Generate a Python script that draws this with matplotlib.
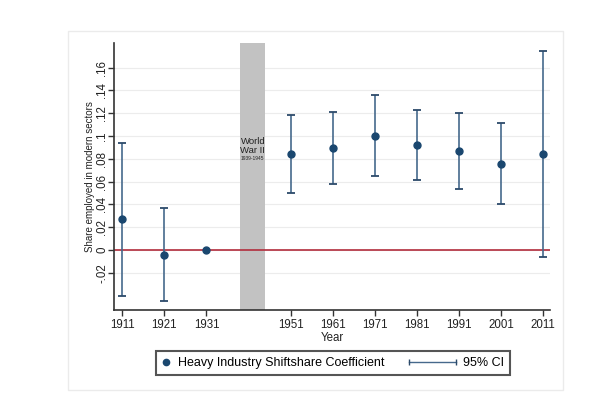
import matplotlib
matplotlib.use("Agg")
import matplotlib.pyplot as plt
from matplotlib.lines import Line2D
from matplotlib.legend_handler import HandlerBase
from matplotlib.patches import Rectangle
from matplotlib.ticker import FuncFormatter

plt.rcParams['font.family'] = ['Liberation Sans', 'DejaVu Sans']

years = [1911, 1921, 1931, 1951, 1961, 1971, 1981, 1991, 2001, 2011]
coef = [0.0269, -0.0047, 0.0, 0.0842, 0.0892, 0.1000, 0.0921, 0.0868, 0.0757, 0.0842]
ci_low = [-0.0404, -0.0450, 0.0, 0.0503, 0.0579, 0.0649, 0.0614, 0.0532, 0.0406, -0.0064]
ci_high = [0.0941, 0.0368, 0.0, 0.1184, 0.1208, 0.1360, 0.1228, 0.1199, 0.1111, 0.1746]
war_start, war_end = 1939, 1945
yticks = [-0.02, 0, 0.02, 0.04, 0.06, 0.08, 0.10, 0.12, 0.14, 0.16]

navy = '#1a476f'
ci_col = '#46698c'
red = '#b22d3c'

fig = plt.figure(figsize=(6.05, 3.99), dpi=100)
fig.patch.set_facecolor('white')
fig.patches.append(Rectangle((68/605, 1-390/399), (563-68)/605, (390-31)/399,
                             transform=fig.transFigure, fill=False,
                             edgecolor='#ebebeb', lw=1.0))

ax = fig.add_axes([114.3/605, 1-310/399, (550-114.3)/605, (310-43.3)/399])
ax.set_xlim(1909.1, 2012.6)
ax.set_ylim(-0.0526, 0.1813)

for t in yticks:
    ax.axhline(t, color='#ececec', lw=0.8, zorder=0)
ax.axvspan(war_start, war_end, color='#c2c2c2', zorder=1, lw=0)
ax.axhline(0, color=red, lw=1.2, zorder=2)

ax.text((war_start+war_end)/2, 0.0912, 'World\nWar II', ha='center', va='center',
        fontsize=6.8, color='#222222', linespacing=0.95, zorder=3)
ax.text((war_start+war_end)/2, 0.0805, '1939-1945', ha='center', va='center',
        fontsize=3.5, color='#222222', zorder=3)

ci_years = [y for y, l, h in zip(years, ci_low, ci_high) if h > l]
ci_l = [l for y, l, h in zip(years, ci_low, ci_high) if h > l]
ci_h = [h for y, l, h in zip(years, ci_low, ci_high) if h > l]
ax.vlines(ci_years, ci_l, ci_h, color=ci_col, lw=1.2, zorder=4)
ax.plot(ci_years, ci_l, ls='none', marker='_', ms=6, mew=1.3, color='#2c4a6a', zorder=4)
ax.plot(ci_years, ci_h, ls='none', marker='_', ms=6, mew=1.3, color='#2c4a6a', zorder=4)
ax.plot(years, coef, ls='none', marker='o', ms=5, color=navy, zorder=5)

for s in ['top', 'right']:
    ax.spines[s].set_visible(False)
for s in ['left', 'bottom']:
    ax.spines[s].set_color('#333333')
    ax.spines[s].set_linewidth(1.2)

ax.set_xticks(years)
ax.set_xticklabels([str(y) for y in years], fontsize=8.3)
ax.set_yticks(yticks)

def fmt(v, pos):
    if abs(v) < 1e-9:
        return '0'
    s = ('%.2f' % v).rstrip('0')
    s = s.replace('0.', '.')
    return s
ax.yaxis.set_major_formatter(FuncFormatter(fmt))
for lab in ax.get_yticklabels():
    lab.set_rotation(90)
    lab.set_va('center')
    lab.set_fontsize(8.3)
ax.tick_params(axis='both', direction='out', length=4, width=1, color='#333333',
               labelcolor='#222222')
ax.tick_params(axis='x', pad=2.5)
ax.tick_params(axis='y', pad=0.5)
ax.set_xlabel('Year', fontsize=8.3, labelpad=1, color='#222222')
ax.set_ylabel('Share employed in modern sectors', fontsize=7.0, labelpad=1, color='#222222')


class DotHandler(HandlerBase):
    def create_artists(self, legend, orig_handle, xdescent, ydescent, width, height, fontsize, trans):
        x = -xdescent + width / 2
        y = (height - ydescent) / 2
        ln = Line2D([x], [y], marker='o', ms=4.5, color=navy, ls='none')
        ln.set_transform(trans)
        return [ln]


class CIHandler(HandlerBase):
    def create_artists(self, legend, orig_handle, xdescent, ydescent, width, height, fontsize, trans):
        x1 = -xdescent + width
        x0 = x1 - 34
        y = (height - ydescent) / 2
        ln = Line2D([x0, x1], [y, y], color=ci_col, lw=1.0)
        ln.set_transform(trans)
        caps = Line2D([x0, x1], [y, y], ls='none', marker='|', ms=5, mew=1.0, color='#2c4a6a')
        caps.set_transform(trans)
        return [ln, caps]


h1 = Line2D([], [], marker='o', color=navy, ls='none')
h2 = Line2D([], [], color=ci_col)
leg = fig.legend([h1, h2], ['Heavy Industry Shiftshare Coefficient', '95% CI'],
                 handler_map={h1: DotHandler(), h2: CIHandler()},
                 loc='center', bbox_to_anchor=(333/605, 1-363/399), ncol=2,
                 fontsize=9.0, handlelength=0.75, handletextpad=0.55, columnspacing=5.0,
                 fancybox=False, framealpha=1, edgecolor='#555555', borderpad=0.45)
leg.get_frame().set_linewidth(1.5)

fig.savefig('out.png', dpi=100, facecolor='white')
